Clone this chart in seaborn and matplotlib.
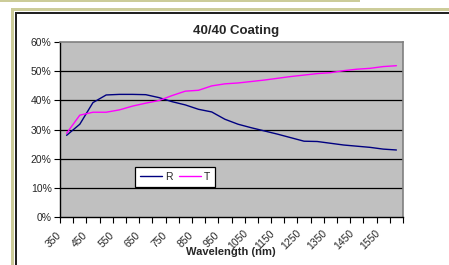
import numpy as np
import pandas as pd
import matplotlib
matplotlib.use("Agg")
import matplotlib.pyplot as plt
from matplotlib.patches import Rectangle
from matplotlib.transforms import ScaledTranslation
from matplotlib.ticker import FixedLocator, FuncFormatter
import seaborn as sns

# ── Data ─────────────────────────────────────────────────────
wavelength = [350, 400, 450, 500, 550, 600, 650, 700, 750, 800, 850, 900, 950,
              1000, 1050, 1100, 1150, 1200, 1250, 1300, 1350, 1400, 1450, 1500,
              1550, 1600]
refl = [28.0, 31.8, 39.2, 41.8, 42.0, 42.0, 41.9, 40.9, 39.5, 38.4, 36.9, 36.0,
        33.5, 31.8, 30.6, 29.5, 28.4, 27.2, 26.0, 25.9, 25.3, 24.7, 24.3, 23.9,
        23.3, 23.0]
trans = [28.7, 34.9, 35.9, 35.9, 36.7, 38.0, 39.0, 39.9, 41.6, 43.1, 43.4, 44.9,
         45.6, 45.9, 46.4, 46.9, 47.5, 48.1, 48.6, 49.1, 49.4, 50.1, 50.6, 50.9,
         51.5, 51.8]
label_ticks = [350, 450, 550, 650, 750, 850, 950, 1050, 1150, 1250, 1350, 1450, 1550]
y_ticks = [0, 10, 20, 30, 40, 50, 60]

df = pd.DataFrame({
    "wavelength": wavelength * 2,
    "value": refl + trans,
    "series": ["R"] * len(refl) + ["T"] * len(trans),
})

# ── Figure ───────────────────────────────────────────────────
W, H = 449, 265
sns.set_style("white")
plt.rcParams["font.family"] = ["Liberation Sans", "DejaVu Sans"]

fig = plt.figure(figsize=(W / 100, H / 100), dpi=100)
fig.patch.set_facecolor("white")

def px(x0, y0, x1, y1):
    # pixel box (top-left origin) -> figure fraction rect
    return (x0 / W, 1 - y1 / H), (x1 - x0) / W, (y1 - y0) / H

khaki = "#cccc99"
for (x0, y0, x1, y1, c) in [(0, 0, 360, 2, khaki),
                            (11, 8, W, 11, khaki),
                            (11, 8, 14, H, khaki),
                            (15, 12, W, 13.5, "#222222"),
                            (15, 12, 16.5, H, "#222222")]:
    xy, w, h = px(x0, y0, x1, y1)
    fig.add_artist(Rectangle(xy, w, h, transform=fig.transFigure,
                             facecolor=c, edgecolor="none", zorder=0))

ax = fig.add_axes([60 / W, 1 - 217.3 / H, 343 / W, 175.6 / H])
ax.set_facecolor("#c0c0c0")

sns.lineplot(data=df, x="wavelength", y="value", hue="series",
             palette={"R": "#000080", "T": "#ff00ff"}, linewidth=1,
             ax=ax, legend=True, zorder=3)

ax.set_xlim(325, 1625)
ax.set_ylim(0, 60)

# grid
for v in y_ticks[1:-1]:
    ax.axhline(v, color="black", lw=0.9, zorder=1)

ax.yaxis.set_major_locator(FixedLocator(y_ticks))
ax.yaxis.set_major_formatter(FuncFormatter(lambda v, p: f"{int(v)}%"))
ax.tick_params(axis="y", length=4, width=0.8, direction="out", pad=2,
               labelsize=7.5, left=True, color="black")

ax.xaxis.set_major_locator(FixedLocator(label_ticks))
ax.xaxis.set_minor_locator(FixedLocator(np.arange(325, 1626, 50)))
ax.tick_params(axis="x", which="major", length=0, pad=16, labelsize=7.5)
ax.tick_params(axis="x", which="minor", length=4, width=0.8,
               direction="out", bottom=True, color="black")
for lab in ax.get_xticklabels():
    lab.set_rotation(45)
    lab.set_rotation_mode("anchor")
    lab.set_ha("center")
    lab.set_va("center")
    lab.set_transform(lab.get_transform() +
                      ScaledTranslation(-13 / 100, 0, fig.dpi_scale_trans))

for side in ["top", "right"]:
    ax.spines[side].set_color("#808080")
    ax.spines[side].set_linewidth(1.2)
for side in ["left", "bottom"]:
    ax.spines[side].set_color("black")
    ax.spines[side].set_linewidth(1)
    ax.spines[side].set_visible(True)

ax.set_xlabel("")
ax.set_ylabel("")

leg = ax.legend(loc="lower left", bbox_to_anchor=(0.22, 0.174), borderaxespad=0,
                ncol=2, frameon=True, fancybox=False, fontsize=7.5,
                handlelength=2.1, handletextpad=0.3, columnspacing=0.6,
                borderpad=0.45)
leg.get_frame().set_edgecolor("black")
leg.get_frame().set_facecolor("white")
leg.get_frame().set_linewidth(0.9)
leg.get_frame().set_alpha(1)

fig.text(236 / W, 1 - 31 / H, "40/40 Coating", ha="center", va="center",
         fontsize=9.5, fontweight="bold")
fig.text(231 / W, 1 - 252 / H, "Wavelength (nm)", ha="center", va="center",
         fontsize=8, fontweight="bold")

fig.savefig("out.png", dpi=100)
